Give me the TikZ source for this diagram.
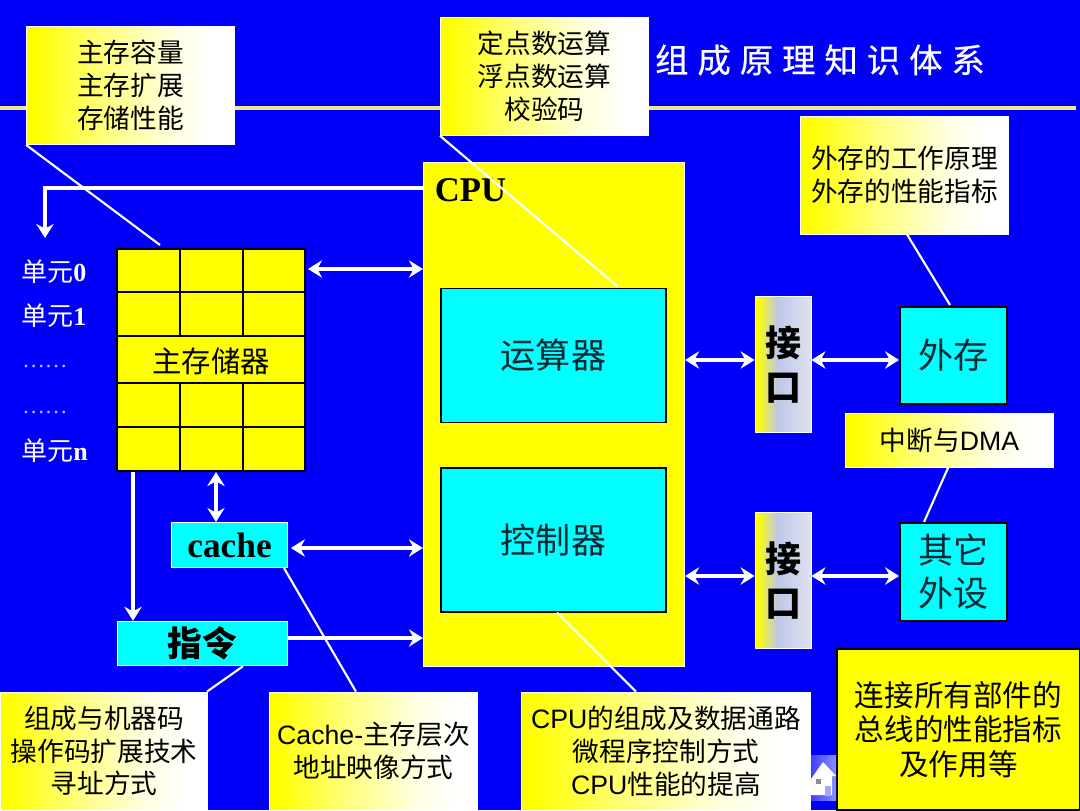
\documentclass[tikz,border=0pt]{standalone}
\usepackage{fontspec}
\usetikzlibrary{arrows.meta}
\setmainfont{Noto Sans CJK SC}
\newfontfamily\la{Liberation Sans}
\newfontfamily\se{Liberation Serif}
\newfontfamily\ttl[LetterSpace=27,FakeBold=0.6]{Noto Sans CJK SC}
\definecolor{bg}{RGB}{0,0,250}
\definecolor{rulec}{RGB}{244,232,130}
\definecolor{ifa}{RGB}{190,200,232}
\definecolor{ifb}{RGB}{222,226,240}
\definecolor{yel}{RGB}{255,255,0}
\definecolor{cya}{RGB}{0,255,255}
\definecolor{ink}{RGB}{10,40,50}
\pgfdeclarehorizontalshading{calloutshade}{100bp}{color(0bp)=(yel); color(27bp)=(yel); color(42bp)=(yel!55!white); color(60bp)=(yel!12!white); color(70bp)=(white); color(100bp)=(white)}
\pgfdeclarehorizontalshading{ifshade}{100bp}{color(0bp)=(yel); color(27bp)=(yel); color(45bp)=(ifa); color(75bp)=(ifb); color(100bp)=(ifb)}
\tikzset{
  callout/.style={shading=calloutshade,draw=white,line width=.6pt,inner sep=0pt,align=center,font=\fontsize{20}{24.6}\selectfont,text=black},
  ifbox/.style={shading=ifshade,draw=white,line width=.6pt,inner sep=0pt,align=center,font=\bfseries\fontsize{27}{32.5}\selectfont,text=black},
  cyanbox/.style={fill=cya,draw=black,line width=1.3pt,inner sep=0pt,align=center,font=\fontsize{26.3}{32.3}\selectfont,text=ink},
  cyanw/.style={fill=cya,draw=white,line width=.6pt,inner sep=0pt,text=black},
  plainbox/.style={fill=yel,draw=black,line width=1.5pt,inner sep=0pt,align=center,font=\fontsize{22.2}{26}\selectfont,text=black},
  unitlabel/.style={text=white,inner sep=0pt,anchor=west,font=\fontsize{19.5}{22}\selectfont},
  wl/.style={draw=white,line width=2.4pt},
  dbl/.style={wl,{Stealth[length=10.5pt,width=13pt,inset=3.5pt]}-{Stealth[length=10.5pt,width=13pt,inset=3.5pt]}},
  sgl/.style={wl,-{Stealth[length=10.5pt,width=13pt,inset=3.5pt]}},
  lead/.style={draw=white,line width=1.6pt},
}
\begin{document}
\begin{tikzpicture}[x=.75pt,y=-.75pt]
\useasboundingbox (0,0) rectangle (1080,810);
\fill[bg] (0,0) rectangle (1080,810);
\fill[rulec] (0,105.5) rectangle (1076,109.5);
\node[text=white,inner sep=0pt,font=\ttl\fontsize{25}{28}\selectfont] (title) at (820,60) {组成原理知识体系};

% CPU
\node[fill=yel,draw=white,line width=.6pt,minimum width=196pt,minimum height=378pt,inner sep=0pt] (cpu) at (554,414) {};
\node[text=black,inner sep=0pt,font=\se\bfseries\fontsize{26}{30}\selectfont] (cpulabel) at (470.5,190) {CPU};

% callouts
\node[callout,minimum width=156pt,minimum height=88.5pt] (c1) at (130.5,85.5) {主存容量\\主存扩展\\存储性能};
\node[callout,minimum width=156pt,minimum height=88.5pt] (c2) at (544.5,76.5) {定点数运算\\浮点数运算\\校验码};
\node[callout,minimum width=156pt,minimum height=88.5pt] (c3) at (904.5,175) {外存的工作原理\\外存的性能指标};
\node[callout,minimum width=156pt,minimum height=40.5pt] (c4) at (949.5,440.5) {\raisebox{-1pt}{中断与{\la DMA}}};
\node[callout,minimum width=155.5pt,minimum height=88.5pt] (c5) at (104,751) {\raisebox{-.7pt}{组成与机器码}\\\raisebox{-.7pt}{操作码扩展技术}\\\raisebox{-.7pt}{寻址方式}};
\node[callout,minimum width=156pt,minimum height=88.5pt] (c6) at (373.5,751) {\raisebox{-.7pt}{{\la Cache-}主存层次}\\\raisebox{-.7pt}{地址映像方式}};
\node[callout,minimum width=217pt,minimum height=88.5pt] (c7) at (666,751) {\raisebox{-.7pt}{{\la CPU}的组成及数据通路}\\\raisebox{-.7pt}{微程序控制方式}\\\raisebox{-.7pt}{{\la CPU}性能的提高}};

% memory
\node[fill=yel,draw=black,line width=1.5pt,minimum width=141pt,minimum height=166.5pt,inner sep=0pt] (mem) at (211,360) {};
\draw[black,line width=1.5pt] (mem.west |- 0,292) -- (mem.east |- 0,292)
  (mem.west |- 0,427) -- (mem.east |- 0,427)
  (180,249) -- (180,336) (243,249) -- (243,336)
  (180,383) -- (180,471) (243,383) -- (243,471);
\draw[black,line width=.8pt] (mem.west |- 0,336) -- (mem.east |- 0,336)
  (mem.west |- 0,383) -- (mem.east |- 0,383);
\node[inner sep=0pt,text=black,font=\fontsize{22}{26}\selectfont] (memtext) at (211,361) {主存储器};

% unit labels
\node[unitlabel] (u0) at (21,272) {单元{\se\bfseries 0}};
\node[unitlabel] (u1) at (21,316) {单元{\se\bfseries 1}};
\node[unitlabel,text=white!75!bg,font=\se\fontsize{17}{20}\selectfont] (ud1) at (22,366) {……};
\node[unitlabel,text=white!75!bg,font=\se\fontsize{17}{20}\selectfont] (ud2) at (22,412) {……};
\node[unitlabel] (un) at (21,451) {单元{\se\bfseries n}};

% boxes
\node[cyanbox,minimum width=168.5pt,minimum height=100.5pt] (alu) at (553.5,355.5) {运算器};
\node[cyanbox,minimum width=168.5pt,minimum height=107.5pt] (ctl) at (553.5,540) {控制器};
\node[cyanw,minimum width=87pt,minimum height=34pt,font=\se\bfseries\fontsize{26.5}{30}\selectfont] (cache) at (229.5,545) {cache};
\node[cyanw,minimum width=128pt,minimum height=33.5pt,font=\bfseries\fontsize{26}{30}\selectfont] (instr) at (202.5,643.5) {\raisebox{-1.5pt}{指令}};
\node[ifbox,minimum width=42pt,minimum height=102pt] (if1) at (783,364.5) {\raisebox{-1.5pt}{接}\\\raisebox{-1.5pt}{口}};
\node[ifbox,minimum width=42pt,minimum height=102pt] (if2) at (783,580.5) {\raisebox{-1.5pt}{接}\\\raisebox{-1.5pt}{口}};
\node[cyanbox,minimum width=80.25pt,minimum height=72.75pt] (ext) at (953.5,355.5) {外存};
\node[cyanbox,minimum width=80.25pt,minimum height=73.5pt] (oth) at (953.5,572) {其它\\外设};
\node[plainbox,minimum width=182pt,minimum height=120.75pt] (bus) at (958.5,729.5) {连接所有部件的\\总线的性能指标\\及作用等};

% home icon
\shade[left color=blue!75!white,right color=blue!45!white] (811,755) rectangle (836,800);
\fill[white] (811,779) -- (823,762) -- (836,776) -- (832,776) -- (832,795) -- (811,795) -- cycle;
\fill[black!45] (816,779) rectangle (821,784);
\fill[blue!35!white] (825,786) rectangle (831,796);

% leaders
\draw[lead] (c1.south west) -- (160,245);
\draw[lead] (c2.south west) -- (617,286);
\draw[lead] (c3.south -| 907,0) -- (950,305);
\draw[lead] (c4.south -| 948,0) -- (924,522);
\draw[lead] (instr.south -| 243,0) -- (c5.north -| 207,0);
\draw[lead] (cache.south -| 284,0) -- (c6.north -| 356,0);
\draw[lead] (ctl.south -| 557,0) -- (c7.north -| 636,0);

% connectors
\coordinate (busend) at (45,238);
\draw[sgl] (cpu.west |- 0,188) -- (45,188) -- (busend);
\draw[dbl] (mem.east |- 0,269) ++(2,0) -- (cpu.west |- 0,269);
\draw[dbl] (mem.south -| 216,0) -- (cache.north -| 216,0);
\draw[dbl] (cache.east |- 0,548) ++(3,0) -- (cpu.west |- 0,548);
\draw[sgl] (mem.south -| 133,0) -- (instr.north -| 133,0);
\draw[sgl] (instr.east |- 0,638) -- (cpu.west |- 0,638);
\draw[dbl] (cpu.east |- 0,360) -- (if1.west |- 0,360);
\draw[dbl] (if1.east |- 0,360) -- (ext.west |- 0,360);
\draw[dbl] (cpu.east |- 0,576) -- (if2.west |- 0,576);
\draw[dbl] (if2.east |- 0,576) -- (oth.west |- 0,576);
\end{tikzpicture}
\end{document}
